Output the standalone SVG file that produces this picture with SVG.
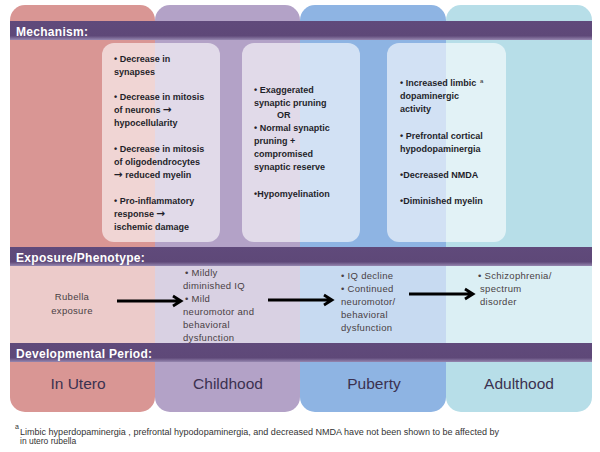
<svg xmlns="http://www.w3.org/2000/svg" width="600" height="452" viewBox="0 0 600 452">
<defs>
<linearGradient id="barg" x1="0" y1="0" x2="0" y2="1">
<stop offset="0" stop-color="#604A7B"/>
<stop offset="0.78" stop-color="#5E4878"/>
<stop offset="1" stop-color="#9687B0"/>
</linearGradient>
<style>
.bar{fill:url(#barg)}
.hdr{font-family:"Liberation Sans",Arial,sans-serif;font-weight:bold;font-size:12px;fill:#ffffff;letter-spacing:0.3px}
.box{fill:#ffffff;fill-opacity:0.6}
.mt{font-family:"Liberation Sans",Arial,sans-serif;font-weight:bold;font-size:9px;fill:#1f1f2a}
.ar{font-family:"DejaVu Sans",sans-serif;font-size:10.5px;font-weight:bold}
.et{font-family:"Liberation Sans",Arial,sans-serif;font-size:9.5px;fill:#4a3f44;letter-spacing:0.3px}
.lbl{font-family:"Liberation Sans",Arial,sans-serif;font-size:15.5px;fill:#3b3150;text-anchor:middle}
.fn{font-family:"Liberation Sans",Arial,sans-serif;font-size:8.5px;fill:#333333}
.arr{fill:none;stroke:#000000;stroke-width:2.8}
</style>
</defs>
<rect width="600" height="452" fill="#ffffff"/>
<g id="columns">
<rect id="col-inutero" x="10" y="5" width="145" height="407" rx="15" fill="#D99694"/>
<rect id="col-childhood" x="155" y="5" width="145" height="407" rx="15" fill="#B3A2C7"/>
<rect id="col-puberty" x="300" y="5" width="146" height="407" rx="15" fill="#8EB4E3"/>
<rect id="col-adulthood" x="446" y="5" width="146" height="407" rx="15" fill="#B7DEE8"/>
</g>
<rect id="exposure-band" x="10" y="266" width="582" height="77" fill="#ffffff" fill-opacity="0.5"/>
<g id="header-mechanism">
<rect class="bar" x="10" y="21" width="582" height="19"/>
<text class="hdr" x="16" y="35.5">Mechanism:</text>
</g>
<g id="header-exposure">
<rect class="bar" x="10" y="247" width="582" height="19"/>
<text class="hdr" x="16" y="261.5">Exposure/Phenotype:</text>
</g>
<g id="header-period">
<rect class="bar" x="10" y="343" width="582" height="19"/>
<text class="hdr" x="16" y="357.5">Developmental Period:</text>
</g>
<g id="mech-inutero">
<rect class="box" x="102" y="43" width="118" height="199" rx="12"/>
<text class="mt" x="114"><tspan x="114" y="62">• Decrease in</tspan><tspan x="114" y="75">synapses</tspan><tspan x="114" y="100">• Decrease in mitosis</tspan><tspan x="114" y="113">of neurons <tspan class="ar">→</tspan></tspan><tspan x="114" y="126">hypocellularity</tspan><tspan x="114" y="152">• Decrease in mitosis</tspan><tspan x="114" y="165">of oligodendrocytes</tspan><tspan x="114" y="178"><tspan class="ar">→</tspan> reduced myelin</tspan><tspan x="114" y="204">• Pro-inflammatory</tspan><tspan x="114" y="217">response <tspan class="ar">→</tspan></tspan><tspan x="114" y="230">ischemic damage</tspan></text>
</g>
<g id="mech-childhood">
<rect class="box" x="242" y="43" width="118" height="199" rx="12"/>
<text class="mt" x="254"><tspan x="254" y="93">• Exaggerated</tspan><tspan x="254" y="106">synaptic pruning</tspan><tspan x="277" y="118">OR</tspan><tspan x="254" y="131">• Normal synaptic</tspan><tspan x="254" y="144">pruning +</tspan><tspan x="254" y="157">compromised</tspan><tspan x="254" y="170">synaptic reserve</tspan><tspan x="254" y="197">•Hypomyelination</tspan></text>
</g>
<g id="mech-puberty">
<rect class="box" x="387" y="43" width="119" height="199" rx="12"/>
<text class="mt" x="400"><tspan x="400" y="86">• Increased limbic</tspan><tspan x="400" y="99">dopaminergic</tspan><tspan x="400" y="112">activity</tspan><tspan x="400" y="139">• Prefrontal cortical</tspan><tspan x="400" y="152">hypodopaminergia</tspan><tspan x="400" y="178">•Decreased NMDA</tspan><tspan x="400" y="204">•Diminished myelin</tspan></text>
<text class="mt" x="480" y="83" style="font-size:6px;font-weight:normal">a</text>
</g>
<g id="exp-inutero">
<text class="et" x="72" y="300" text-anchor="middle">Rubella</text>
<text class="et" x="72" y="314" text-anchor="middle">exposure</text>
</g>
<g id="exp-childhood">
<text class="et"><tspan x="185" y="276">• Mildly</tspan><tspan x="183" y="289">diminished IQ</tspan><tspan x="185" y="302">• Mild</tspan><tspan x="183" y="315">neuromotor and</tspan><tspan x="183" y="328">behavioral</tspan><tspan x="183" y="341">dysfunction</tspan></text>
</g>
<g id="exp-puberty">
<text class="et"><tspan x="341" y="279">• IQ decline</tspan><tspan x="341" y="292">• Continued</tspan><tspan x="341" y="305">neuromotor/</tspan><tspan x="341" y="318">behavioral</tspan><tspan x="341" y="331">dysfunction</tspan></text>
</g>
<g id="exp-adulthood">
<text class="et"><tspan x="478" y="279">• Schizophrenia/</tspan><tspan x="480" y="292">spectrum</tspan><tspan x="480" y="305">disorder</tspan></text>
</g>
<g id="connectors">
<path class="arr" d="M117,301 H180 M173,296 L181,301 L173,306"/>
<path class="arr" d="M268,300 H331 M324,295 L332,300 L324,305"/>
<path class="arr" d="M409,294 H472 M465,289 L473,294 L465,299"/>
</g>
<g id="labels">
<text class="lbl" x="78" y="389">In Utero</text>
<text class="lbl" x="228" y="389">Childhood</text>
<text class="lbl" x="374" y="389">Puberty</text>
<text class="lbl" x="519" y="389">Adulthood</text>
</g>
<g id="footnote">
<text class="fn" x="15" y="429" style="font-size:7px">a</text>
<text class="fn" x="20" y="435" textLength="479" lengthAdjust="spacingAndGlyphs">Limbic hyperdopaminergia , prefrontal hypodopaminergia, and decreased NMDA have not been shown to be affected by</text>
<text class="fn" x="20" y="444">in utero rubella</text>
</g>
</svg>
